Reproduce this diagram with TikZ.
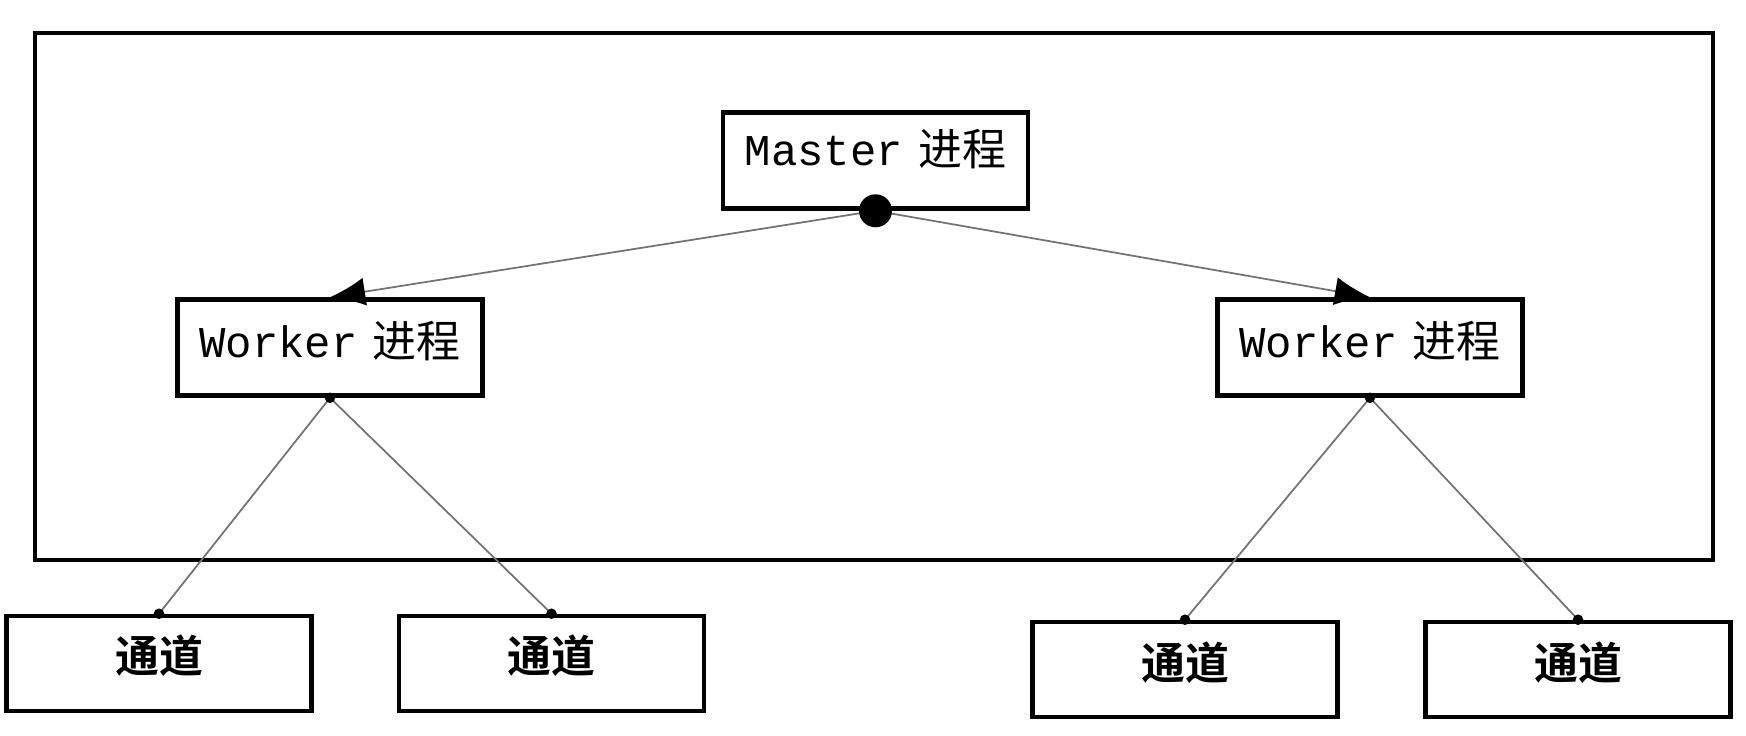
\documentclass[tikz,border=0pt]{standalone}
\usepackage{fontspec}
\usepackage{tikz}
\usetikzlibrary{arrows.meta, positioning}
\setmonofont{Liberation Mono}
\newfontfamily\cjk{Noto Sans CJK SC}
\newfontfamily\cjkbold{Noto Sans CJK SC Bold}
\tikzset{
    proc/.style={draw, line width=1.3pt, minimum width=3.05cm, minimum height=0.96cm, text height=0.35cm, text depth=0.155cm, font=\fontsize{12.5}{15}\selectfont},
    chan/.style={draw, line width=1.3pt, minimum width=3.05cm, minimum height=0.95cm, text height=0.35cm, text depth=0.16cm, font=\fontsize{12.5}{15}\selectfont\cjkbold},
    link/.style={draw=black!55, line width=0.5pt},
    pin/.style={circle, fill, inner sep=0pt, minimum size=3pt}
}
\newcommand{\proclabel}[1]{{\ttfamily #1}\hspace{0.35em}{\cjk 进程}}

\begin{document}
\begin{tikzpicture}
    \useasboundingbox (0,0) rectangle (17.46,7.36);
    \node[draw, line width=1.3pt, minimum width=16.78cm, minimum height=5.27cm] (frame) at (8.74,4.395) {};

    \node[proc, text depth=0.245cm] (master) at (8.755,5.755) {\proclabel{Master}};
    \node[proc] (workerL) at (3.30,3.885) {\proclabel{Worker}};
    \node[proc] (workerR) at (13.70,3.885) {\proclabel{Worker}};

    \node[chan] (chanA) at (1.59,0.725) {通道};
    \node[chan] (chanB) at (5.515,0.725) {通道};
    \node[chan] (chanC) at (11.85,0.665) {通道};
    \node[chan] (chanD) at (15.78,0.665) {通道};

    % master to workers
    \draw[link, -{Latex[length=10pt, width=8pt, black]}] (master.south) -- (workerL.north);
    \draw[link, -{Latex[length=10pt, width=8pt, black]}] (master.south) -- (workerR.north);
    \node[circle, fill, inner sep=0pt, minimum size=0.33cm] (hub) at (master.south) {};

    % workers to channels
    \draw[link] (workerL.south) -- (chanA.north);
    \draw[link] (workerL.south) -- (chanB.north);
    \draw[link] (workerR.south) -- (chanC.north);
    \draw[link] (workerR.south) -- (chanD.north);
    \foreach \n in {workerL.south, workerR.south, chanA.north, chanB.north, chanC.north, chanD.north}
        \node[pin] at (\n) {};
\end{tikzpicture}
\end{document}
